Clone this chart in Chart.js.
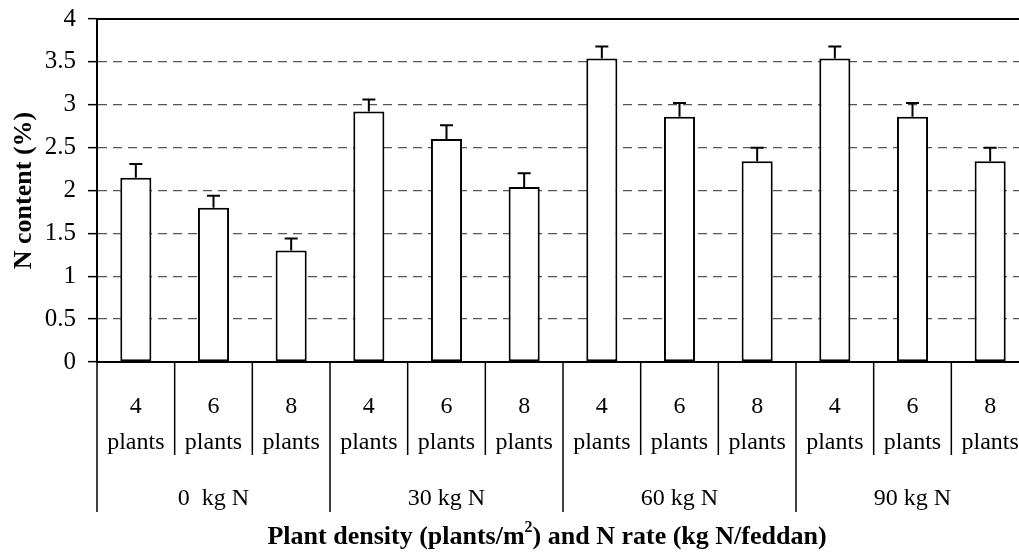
<!DOCTYPE html>
<html>
<head>
<meta charset="utf-8">
<script src="https://cdn.jsdelivr.net/npm/chart.js@4.4.0/dist/chart.umd.min.js"></script>
<style>
  html, body { margin: 0; padding: 0; background: #fff; overflow: hidden; }
  #wrap { width: 1030px; height: 555px; }
</style>
</head>
<body>
<div id="wrap"><canvas id="chart"></canvas></div>
<script>
var densities = ['4', '6', '8'];
var nRates = ['0  kg N', '30 kg N', '60 kg N', '90 kg N'];
var nContent = [2.15, 1.80, 1.30, 2.92, 2.60, 2.04, 3.54, 2.86, 2.34, 3.54, 2.86, 2.34];
var errors = [0.16, 0.14, 0.14, 0.14, 0.16, 0.16, 0.14, 0.16, 0.16, 0.14, 0.16, 0.16];
var yMax = 4;
var yStep = 0.5;

var serif = '"Liberation Serif", "Times New Roman", serif';

var labels = [];
nRates.forEach(function () {
    densities.forEach(function (d) {
        labels.push([d, 'plants']);
    });
});

// error bars, group row, separators and x title
var extras = {
    id: 'extras',
    afterDatasetsDraw: function (chart) {
        var ctx = chart.ctx,
            y = chart.scales.y,
            meta = chart.getDatasetMeta(0);
        ctx.save();
        ctx.strokeStyle = '#000';
        ctx.lineWidth = 2;
        meta.data.forEach(function (bar, i) {
            var top = y.getPixelForValue(nContent[i] + errors[i]);
            ctx.beginPath();
            ctx.moveTo(bar.x, bar.y);
            ctx.lineTo(bar.x, top);
            ctx.moveTo(bar.x - 6.5, top);
            ctx.lineTo(bar.x + 6.5, top);
            ctx.stroke();
        });
        ctx.restore();
    },
    afterDraw: function (chart) {
        var ctx = chart.ctx,
            area = chart.chartArea,
            n = labels.length,
            w = (area.right - area.left) / n;
        ctx.save();
        // top border
        ctx.strokeStyle = '#000';
        ctx.lineWidth = 2;
        ctx.beginPath();
        ctx.moveTo(area.left, area.top);
        ctx.lineTo(area.right, area.top);
        ctx.stroke();
        // category separators
        ctx.lineWidth = 1.5;
        for (var k = 0; k <= n; k++) {
            var px = area.left + k * w;
            ctx.beginPath();
            ctx.moveTo(px, area.bottom);
            ctx.lineTo(px, k % densities.length === 0 ? area.bottom + 150 : area.bottom + 93);
            ctx.stroke();
        }
        // N rate row
        ctx.fillStyle = '#000';
        ctx.font = '24px ' + serif;
        ctx.textAlign = 'center';
        ctx.textBaseline = 'middle';
        nRates.forEach(function (r, g) {
            var cx = area.left + (g * densities.length + densities.length / 2) * w;
            ctx.fillText(r, cx, area.bottom + 137);
        });
        // x axis title with superscript
        var parts = [['Plant density (plants/m', 26], ['2', 16], [') and N rate (kg N/feddan)', 26]];
        var total = 0;
        parts.forEach(function (p) {
            ctx.font = 'bold ' + p[1] + 'px ' + serif;
            p.push(ctx.measureText(p[0]).width);
            total += p[2];
        });
        var tx = 547 - total / 2, ty = 537;
        ctx.textAlign = 'left';
        parts.forEach(function (p) {
            ctx.font = 'bold ' + p[1] + 'px ' + serif;
            ctx.fillText(p[0], tx, p[1] < 20 ? ty - 9 : ty);
            tx += p[2];
        });
        ctx.restore();
    }
};

new Chart(document.getElementById('chart'), {
    type: 'bar',
    data: {
        labels: labels,
        datasets: [{
            data: nContent,
            backgroundColor: '#fff',
            borderColor: '#000',
            borderWidth: 2,
            borderSkipped: false,
            categoryPercentage: 1,
            barPercentage: 0.4
        }]
    },
    options: {
        responsive: true,
        maintainAspectRatio: false,
        animation: false,
        layout: { padding: { top: 19, left: 0, right: 1, bottom: 0 } },
        plugins: {
            legend: { display: false },
            tooltip: { enabled: false }
        },
        scales: {
            x: {
                grid: { offset: true, drawOnChartArea: false, drawTicks: false },
                border: { color: '#000', width: 2 },
                ticks: {
                    color: '#000',
                    font: { family: serif, size: 24, lineHeight: 1.48 },
                    padding: 27,
                    maxRotation: 0,
                    autoSkip: false
                },
                afterFit: function (s) {
                    s.height = 193;
                    s.paddingLeft = 0;
                    s.paddingRight = 0;
                }
            },
            y: {
                min: 0,
                max: yMax,
                ticks: {
                    stepSize: yStep,
                    color: '#000',
                    font: { family: serif, size: 25 },
                    padding: 12,
                    callback: function (v) { return String(v); }
                },
                grid: {
                    color: function (c) {
                        return (c.tick && (c.tick.value === 0 || c.tick.value === yMax)) ? 'rgba(0,0,0,0)' : '#555';
                    },
                    lineWidth: 1.3,
                    tickColor: '#000',
                    tickLength: 9,
                    tickWidth: 1.5
                },
                border: { color: '#000', width: 2, dash: [9, 6] },
                title: {
                    display: true,
                    text: 'N content (%)',
                    color: '#000',
                    font: { family: serif, size: 26, weight: 'bold' },
                    padding: { top: 9, bottom: 0 }
                },
                afterFit: function (s) {
                    s.width = 97;
                    s.paddingTop = 0;
                    s.paddingBottom = 0;
                }
            }
        }
    },
    plugins: [extras]
});
</script>
</body>
</html>
